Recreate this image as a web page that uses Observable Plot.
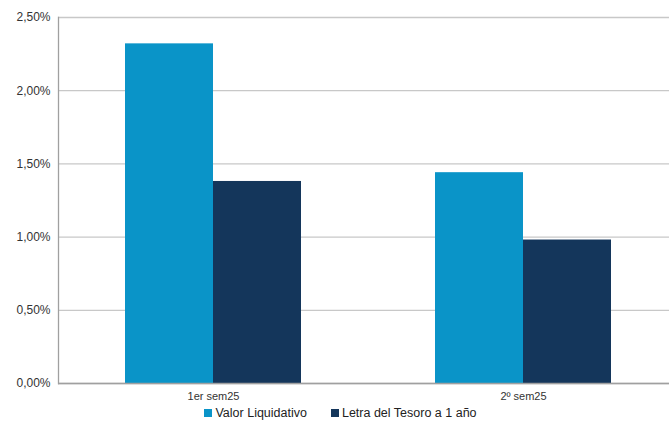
<!DOCTYPE html>
<html>
<head>
<meta charset="utf-8">
<script src="https://cdn.jsdelivr.net/npm/d3@7"></script>
<script src="https://cdn.jsdelivr.net/npm/@observablehq/plot@0.6"></script>
<style>
  html, body { margin: 0; padding: 0; background: #fff; }
  body { width: 669px; height: 421px; overflow: hidden; font-family: "Liberation Sans", Arial, sans-serif; }
  #chart svg { display: block; }
  #legend { display: flex; justify-content: center; gap: 24px; font-size: 12.5px; line-height: 14px; color: #222; margin-top: 1px; padding-left: 12px; }
  #legend span.item { display: inline-flex; align-items: center; }
  #legend i { display: inline-block; width: 8px; height: 8px; margin-right: 3px; }
</style>
</head>
<body>
<div id="chart"></div>
<div id="legend"></div>
<script>
const groups = ["1er sem25", "2º sem25"];
const series = ["Valor Liquidativo", "Letra del Tesoro a 1 año"];
const valorLiquidativo = [0.0232, 0.0144];
const letraTesoro = [0.0138, 0.0098];
const colors = ["#0a94c8", "#14365b"];
const yTicks = [0, 0.005, 0.01, 0.015, 0.02, 0.025];

const data = groups.flatMap((g, i) => [
  {group: g, series: series[0], value: valorLiquidativo[i]},
  {group: g, series: series[1], value: letraTesoro[i]}
]);

const locale = d3.formatLocale({decimal: ",", thousands: ".", grouping: [3], currency: ["", "€"]});
const pct = locale.format(".2%");

const chart = Plot.plot({
  width: 669,
  height: 405,
  marginLeft: 58,
  marginRight: -9,
  marginTop: 17,
  marginBottom: 22,
  style: {fontFamily: "Liberation Sans, Arial, sans-serif", fontSize: "11px", color: "#333", background: "#fff"},
  fx: {domain: groups, padding: 0, label: null},
  x: {domain: series, paddingInner: 0, paddingOuter: 0.75, axis: null},
  y: {domain: [0, 0.025], label: null},
  color: {domain: series, range: colors},
  marks: [
    Plot.gridY(yTicks, {stroke: "#c8c8c8", strokeOpacity: 1, strokeWidth: 1.3}),
    Plot.barY(data, {fx: "group", x: "series", y: "value", fill: "series"}),
    Plot.ruleY([0], {stroke: "#a0a0a0", strokeWidth: 1.3}),
    Plot.frame({anchor: "left", facetAnchor: "left", stroke: "#a0a0a0", strokeWidth: 1.3}),
    Plot.axisY(yTicks, {tickFormat: pct, tickSize: 0, tickPadding: 8, fontSize: 12, label: null}),
    Plot.axisFx({anchor: "bottom", tickSize: 0, tickPadding: 9, fontSize: 11, label: null})
  ]
});
document.getElementById("chart").appendChild(chart);

const legend = d3.select("#legend");
series.forEach((s, i) => {
  const item = legend.append("span").attr("class", "item");
  item.append("i").style("background", colors[i]);
  item.append("span").text(s);
});
</script>
</body>
</html>
